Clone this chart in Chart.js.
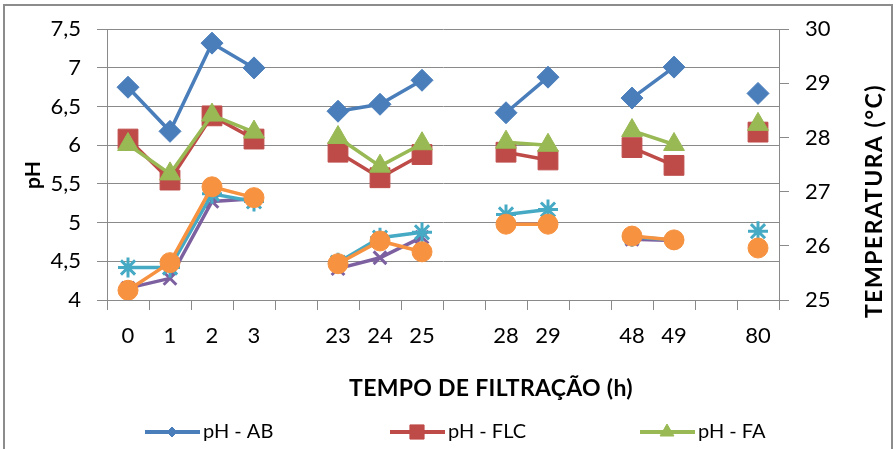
<!DOCTYPE html>
<html>
<head>
<meta charset="utf-8">
<script src="https://cdn.jsdelivr.net/npm/chart.js@4"></script>
<style>
  html, body { margin: 0; padding: 0; background: #fff; }
  #wrap { width: 896px; height: 449px; }
</style>
</head>
<body>
<div id="wrap"><canvas id="grafico" width="896" height="449"></canvas></div>
<script>
// Horas de filtração (as posições vazias separam os grupos)
const horas = ['0', '1', '2', '3', '', '23', '24', '25', '', '28', '29', '', '48', '49', '', '80'];

// pH (eixo esquerdo)
const phAB  = [6.75, 6.18, 7.32, 7.00, null, 6.44, 6.53, 6.84, null, 6.42, 6.88, null, 6.61, 7.01, null, 6.67];
const phFLC = [6.08, 5.55, 6.38, 6.08, null, 5.91, 5.58, 5.88, null, 5.91, 5.81, null, 5.97, 5.74, null, 6.17];
const phFA  = [6.01, 5.63, 6.39, 6.17, null, 6.10, 5.73, 6.02, null, 6.04, 6.00, null, 6.19, 6.01, null, 6.27];

// Temperatura (eixo direito, °C)
const tempAB  = [25.22, 25.40, 26.82, 26.87, null, 25.58, 25.78, 26.16, null, 26.40, 26.40, null, 26.12, 26.10, null, 25.97];
const tempFLC = [25.60, 25.60, 26.96, 26.82, null, 25.69, 26.15, 26.25, null, 26.58, 26.67, null, 26.17, 26.11, null, 26.27];
const tempFA  = [25.18, 25.69, 27.09, 26.89, null, 25.67, 26.09, 25.89, null, 26.40, 26.40, null, 26.18, 26.11, null, 25.96];

const pHTicks = [4, 4.5, 5, 5.5, 6, 6.5, 7, 7.5];
const tempTicks = [25, 26, 27, 28, 29, 30];

const fonte = 'Lato, "Open Sans", sans-serif';
const cinza = '#8a8a8a';

function serie(label, data, cor, estilo, raio, eixo, ordem) {
    return {
        label: label,
        data: data,
        yAxisID: eixo,
        borderColor: cor,
        backgroundColor: cor,
        pointBackgroundColor: cor,
        pointBorderColor: cor,
        pointStyle: estilo,
        pointRadius: raio,
        pointHoverRadius: raio,
        pointBorderWidth: estilo === 'star' || estilo === 'crossRot' ? 3 : 1,
        borderWidth: 3.5,
        tension: 0,
        spanGaps: false,
        order: ordem
    };
}

// Moldura, títulos dos eixos e legenda (só a primeira linha aparece no recorte)
const extras = {
    id: 'extras',
    beforeDraw(chart) {
        const ctx = chart.ctx;
        ctx.save();
        ctx.strokeStyle = '#8c8c8c';
        ctx.lineWidth = 2;
        ctx.strokeRect(4, 5, 888, 470);
        ctx.restore();
    },
    afterDraw(chart) {
        const ctx = chart.ctx;
        ctx.save();
        ctx.fillStyle = '#000';
        ctx.textAlign = 'center';
        ctx.textBaseline = 'middle';
        ctx.font = 'bold 23px ' + fonte;
        ctx.letterSpacing = '0.3px';
        ctx.fillText('TEMPO DE FILTRAÇÃO (h)', 491, 389);

        ctx.save();
        ctx.letterSpacing = '1.5px';
        ctx.translate(875, 201);
        ctx.rotate(-Math.PI / 2);
        ctx.fillText('TEMPERATURA (°C)', 0, 0);
        ctx.restore();

        ctx.letterSpacing = '0px';
        ctx.font = 'bold 21px ' + fonte;
        ctx.translate(33, 175);
        ctx.rotate(-Math.PI / 2);
        ctx.fillText('pH', 0, 0);
        ctx.restore();

        // legenda
        const xs = [145, 390, 640];
        const raios = [5, 10, 8];
        const y = 432;
        ctx.save();
        ctx.font = '20px ' + fonte;
        ctx.textBaseline = 'middle';
        ctx.textAlign = 'left';
        chart.data.datasets.slice(0, 3).forEach((ds, i) => {
            const x = xs[i];
            ctx.strokeStyle = ds.borderColor;
            ctx.fillStyle = ds.borderColor;
            ctx.lineWidth = 4;
            ctx.beginPath();
            ctx.moveTo(x, y);
            ctx.lineTo(x + 55, y);
            ctx.stroke();
            ctx.lineWidth = 1;
            Chart.helpers.drawPoint(ctx, {
                pointStyle: ds.pointStyle,
                radius: raios[i],
                borderWidth: 1,
                rotation: 0
            }, x + 27, y);
            ctx.fillStyle = '#000';
            ctx.fillText(ds.label, x + 58, y);
        });
        ctx.restore();
    }
};

const ctx = document.getElementById('grafico').getContext('2d');
const chart = new Chart(ctx, {
    type: 'line',
    data: {
        labels: horas,
        datasets: [
            serie('pH - AB', phAB, '#4a7ebb', 'rectRot', 11, 'y', 6),
            serie('pH - FLC', phFLC, '#be4b48', 'rect', 14, 'y', 5),
            serie('pH - FA', phFA, '#98b954', 'triangle', 12, 'y', 4),
            serie('T - AB', tempAB, '#7d60a0', 'crossRot', 9, 'y2', 3),
            serie('T - FLC', tempFLC, '#46aac5', 'star', 10, 'y2', 2),
            serie('T - FA', tempFA, '#f69240', 'circle', 10, 'y2', 1)
        ]
    },
    options: {
        responsive: false,
        animation: false,
        events: [],
        layout: { padding: { left: 20, right: 8, top: 25, bottom: 0 } },
        plugins: {
            legend: { display: false },
            tooltip: { enabled: false }
        },
        scales: {
            x: {
                type: 'category',
                offset: true,
                afterFit(scale) { scale.height = 149; },
                grid: {
                    offset: true,
                    drawOnChartArea: false,
                    drawTicks: true,
                    tickLength: 10,
                    color: cinza
                },
                border: { color: cinza, width: 1 },
                ticks: {
                    autoSkip: false,
                    maxRotation: 0,
                    padding: 13,
                    color: '#000',
                    font: { family: fonte, size: 22 }
                }
            },
            y: {
                position: 'left',
                min: 4,
                max: 7.5,
                afterFit(scale) { scale.width = 87; },
                afterBuildTicks(scale) { scale.ticks = pHTicks.map(v => ({ value: v })); },
                grid: { color: cinza, tickLength: 10 },
                border: { color: cinza, width: 1 },
                ticks: {
                    padding: 16,
                    color: '#000',
                    font: { family: fonte, size: 22 },
                    callback: v => v.toString().replace('.', ',')
                }
            },
            y2: {
                position: 'right',
                min: 25,
                max: 30,
                afterFit(scale) { scale.width = 896 - 8 - 779; },
                afterBuildTicks(scale) { scale.ticks = tempTicks.map(v => ({ value: v })); },
                grid: { drawOnChartArea: false, color: cinza, tickLength: 10 },
                border: { color: cinza, width: 1 },
                ticks: {
                    padding: 16,
                    color: '#000',
                    font: { family: fonte, size: 22 }
                }
            }
        }
    },
    plugins: [extras]
});
</script>
</body>
</html>
